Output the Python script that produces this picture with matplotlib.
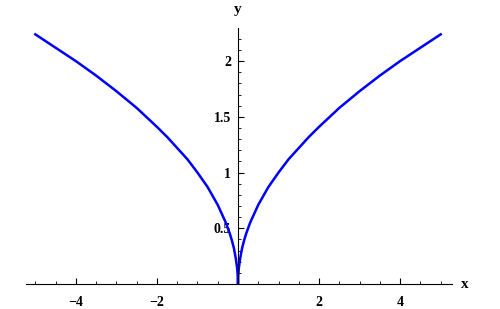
import matplotlib
matplotlib.use("Agg")
import matplotlib.pyplot as plt
from matplotlib.ticker import MultipleLocator, FixedLocator

# right half of the curve; left half is its mirror
x_half = [0.0, 0.005, 0.02, 0.05, 0.1, 0.15, 0.2, 0.3, 0.4, 0.5, 0.75, 1.0, 1.25, 1.5,
          1.75, 2.0, 2.5, 3.0, 3.5, 4.0, 4.5, 5.0]
y_half = [0.0, 0.07, 0.14, 0.22, 0.32, 0.39, 0.45, 0.55, 0.63, 0.71, 0.87, 1.0, 1.12, 1.22,
          1.32, 1.41, 1.58, 1.73, 1.87, 2.0, 2.12, 2.24]
x_ticks = [-4, -2, 2, 4]
x_tick_labels = ["\u22124", "\u22122", "2", "4"]
y_ticks = [0.5, 1, 1.5, 2]
y_tick_labels = ["0.5", "1", "1.5", "2"]

plt.rcParams["font.family"] = ["Liberation Serif", "DejaVu Serif"]
plt.rcParams["font.weight"] = "bold"

fig = plt.figure(figsize=(5, 3.09), dpi=100)
ax = fig.add_axes([0.052, 0.081, 0.852, 0.828])

xs = [-v for v in x_half[::-1]] + x_half[1:]
ys = y_half[::-1] + y_half[1:]
ax.plot(xs, ys, color="#0000ff", lw=1.8, solid_joinstyle="round")

ax.set_xlim(-5.23, 5.28)
ax.set_ylim(0, 2.296)

ax.spines["left"].set_position(("data", 0))
ax.spines["bottom"].set_position(("data", 0))
ax.spines["top"].set_visible(False)
ax.spines["right"].set_visible(False)
for s in ("left", "bottom"):
    ax.spines[s].set_linewidth(0.8)

ax.xaxis.set_major_locator(FixedLocator(x_ticks))
ax.set_xticklabels(x_tick_labels, fontweight="bold")
ax.xaxis.set_minor_locator(MultipleLocator(0.5))
ax.yaxis.set_major_locator(FixedLocator(y_ticks))
ax.set_yticklabels(y_tick_labels, fontweight="bold")
ax.yaxis.set_minor_locator(MultipleLocator(0.1))

ax.tick_params(axis="x", which="major", direction="in", length=4, width=0.8,
               labelsize=10, pad=9)
ax.tick_params(axis="x", which="minor", direction="in", length=2, width=0.6)
ax.tick_params(axis="y", which="major", direction="in", length=4, width=0.8,
               labelsize=10, pad=5)
ax.tick_params(axis="y", which="minor", direction="in", length=2, width=0.6)

fig.text(465 / 500, 1 - 285 / 309, "x", ha="center", va="center", fontsize=11,
         fontweight="bold")
fig.text(238 / 500, 1 - 10 / 309, "y", ha="center", va="center", fontsize=11,
         fontweight="bold")

fig.savefig("out.png", dpi=100)
